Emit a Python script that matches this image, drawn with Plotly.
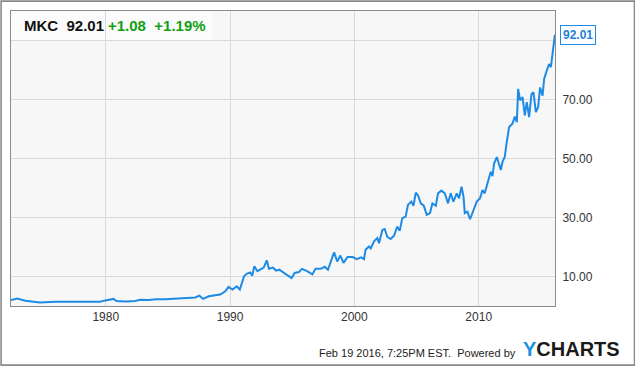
import plotly.graph_objects as go

# ---- data ----
dates = [
    "1972-05-18", "1972-11-15", "1973-07-15", "1974-09-15", "1975-12-15", "1977-03-15",
    "1978-05-15", "1979-07-15", "1979-12-20", "1980-08-15", "1980-11-15", "1981-08-15",
    "1982-05-15", "1982-10-15", "1983-06-15", "1984-01-15", "1984-10-15", "1985-08-15",
    "1986-06-15", "1987-03-15", "1987-07-15", "1987-11-01", "1988-04-15", "1988-10-15",
    "1989-03-15", "1989-08-15", "1989-11-15", "1990-03-15", "1990-07-15", "1990-10-15",
    "1991-02-15", "1991-05-15", "1991-08-15", "1991-10-15", "1991-12-15", "1992-03-15",
    "1992-06-15", "1992-09-15", "1992-12-15", "1993-02-15", "1993-06-15", "1993-09-15",
    "1993-12-15", "1994-05-15", "1994-09-15", "1994-12-15", "1995-03-15", "1995-07-15",
    "1995-10-15", "1996-03-15", "1996-08-15", "1996-11-15", "1997-04-15", "1997-08-15",
    "1997-11-15", "1998-02-15", "1998-05-15", "1998-08-15", "1998-11-15", "1999-02-15",
    "1999-06-15", "1999-11-15", "2000-03-15", "2000-07-15", "2000-10-10", "2000-11-25",
    "2001-03-05", "2001-04-25", "2001-08-01", "2001-11-05", "2001-12-25", "2002-04-01",
    "2002-06-10", "2002-08-28", "2002-12-01", "2003-03-10", "2003-06-15", "2003-08-25",
    "2003-11-10", "2004-02-15", "2004-04-25", "2004-08-01", "2004-10-01", "2004-12-10",
    "2005-02-15", "2005-05-05", "2005-08-01", "2005-10-28", "2006-02-01", "2006-04-12",
    "2006-07-20", "2006-09-25", "2007-01-01", "2007-04-10", "2007-07-15", "2007-10-01",
    "2007-12-20", "2008-03-28", "2008-06-03", "2008-08-15", "2008-10-12", "2008-11-18",
    "2009-02-05", "2009-04-22", "2009-07-30", "2009-11-05", "2010-02-10", "2010-04-22",
    "2010-06-28", "2010-09-16", "2010-11-03", "2010-12-20", "2011-02-10", "2011-03-28",
    "2011-06-18", "2011-08-22", "2011-10-12", "2011-12-02", "2012-02-05", "2012-04-05",
    "2012-06-14", "2012-09-20", "2012-11-28", "2013-01-26", "2013-03-05", "2013-05-01",
    "2013-07-13", "2013-09-17", "2013-11-14", "2014-01-22", "2014-04-01", "2014-05-29",
    "2014-08-07", "2014-10-12", "2014-12-10", "2015-02-20", "2015-04-08", "2015-06-24",
    "2015-09-01", "2015-10-23", "2015-12-10", "2016-01-26", "2016-02-19",
]
prices = [
    2.0, 2.5, 1.8, 1.2, 1.4, 1.5,
    1.4, 1.45, 1.9, 2.4, 1.7, 1.55,
    1.7, 2.1, 2.0, 2.3, 2.3, 2.5,
    2.8, 2.9, 3.5, 2.4, 3.3, 3.7,
    3.9, 5.0, 6.5, 5.6, 6.7, 5.6,
    10.1, 11.0, 11.4, 10.3, 13.5, 11.8,
    12.5, 13.0, 15.5, 12.6, 13.0, 12.0,
    12.3, 11.2, 10.3, 9.5, 11.2, 11.5,
    12.6, 11.8, 10.7, 12.6, 12.6, 13.3,
    12.3, 15.7, 18.2, 15.1, 17.1, 14.6,
    16.6, 16.6, 15.9, 16.5, 15.9, 19.1,
    20.2, 19.5, 21.9, 23.0, 21.3, 25.8,
    26.1, 23.4, 22.7, 23.8, 26.9, 25.5,
    29.8, 30.3, 34.3, 35.4, 34.0, 38.4,
    37.5, 34.8, 34.0, 30.9, 31.5, 34.8,
    34.0, 38.2, 39.1, 38.2, 34.8, 38.2,
    35.4, 38.2, 36.5, 40.4, 37.1, 31.5,
    32.0, 29.4, 32.6, 35.4, 36.5, 39.3,
    38.2, 41.6, 43.8, 45.5, 44.0, 48.3,
    50.5, 47.7, 46.1, 48.9, 50.5, 55.6,
    60.7, 61.8, 64.2, 62.3, 73.6, 69.7,
    70.8, 64.6, 69.1, 64.0, 71.9, 72.5,
    65.7, 67.4, 74.1, 71.3, 77.0, 79.8,
    82.0, 81.0, 85.4, 88.8, 92.01,
]
ticker = "MKC"
last_price = 92.01
change_abs = "+1.08"
change_pct = "+1.19%"
y_ticks = [10, 30, 50, 70, 90]
x_ticks = ["1980-01-01", "1990-01-01", "2000-01-01", "2010-01-01"]
x_tick_labels = ["1980", "1990", "2000", "2010"]
footer = "Feb 19 2016, 7:25PM EST.  Powered by"

LINE = "#1d8be6"
FONT = "Liberation Sans, Arial, sans-serif"

fig = go.Figure()
fig.add_trace(go.Scatter(
    x=dates, y=prices, mode="lines",
    line=dict(color=LINE, width=2), hoverinfo="skip", showlegend=False,
))

W, H = 635, 366
L, R, T, B = 10.7, 80.3, 10.7, 60
pw, ph = W - L - R, H - T - B

def px_x(p):
    return (p - L) / pw

def px_y(p):
    return (H - B - p) / ph

fig.update_layout(
    width=W, height=H,
    margin=dict(l=L, r=R, t=T, b=B, pad=0),
    paper_bgcolor="white", plot_bgcolor="#f7f7f7",
    font=dict(family=FONT, size=12, color="#333333"),
    xaxis=dict(
        type="date", range=["1972-05-18", "2016-02-21"],
        tickvals=x_ticks, ticktext=x_tick_labels,
        showgrid=True, gridcolor="#d9d9d9", gridwidth=1,
        showline=True, linecolor="#8c8c8c", linewidth=1, mirror=True,
        ticks="", zeroline=False, tickfont=dict(size=12, color="#333333"),
    ),
    yaxis=dict(
        range=[0, 100], side="right",
        tickvals=y_ticks, tickformat=".2f",
        showgrid=True, gridcolor="#d9d9d9", gridwidth=1,
        showline=True, linecolor="#8c8c8c", linewidth=1, mirror=True,
        ticks="", zeroline=False, ticklabelstandoff=4,
        tickfont=dict(size=12, color="#333333"),
    ),
    shapes=[
        # header box
        dict(type="rect", xref="paper", yref="paper",
             x0=0, x1=px_x(212), y0=px_y(40), y1=1,
             fillcolor="rgba(255,255,255,0.55)", line=dict(width=0), layer="below"),
        # outer frame
        dict(type="rect", xref="paper", yref="paper",
             x0=px_x(0.8), x1=px_x(634.2), y0=px_y(365.2), y1=px_y(0.8),
             fillcolor="rgba(0,0,0,0)", line=dict(color="#8a8a8a", width=1.6)),
    ],
)

fig.add_annotation(
    xref="paper", yref="paper", x=px_x(22), y=px_y(25),
    xanchor="left", yanchor="middle", showarrow=False,
    text=f"<b>{ticker}&nbsp;&nbsp;{last_price:.2f}</b>",
    font=dict(family=FONT, size=15, color="#111111"),
)
fig.add_annotation(
    xref="paper", yref="paper", x=px_x(106), y=px_y(25),
    xanchor="left", yanchor="middle", showarrow=False,
    text=f"<b>{change_abs}&nbsp;&nbsp;{change_pct}</b>",
    font=dict(family=FONT, size=15, color="#12a012"),
)
fig.add_annotation(
    x=dates[-1], y=prices[-1], xref="x", yref="y",
    xanchor="left", yanchor="middle", xshift=5, showarrow=False,
    text=f"<b>{prices[-1]:.2f}</b>",
    font=dict(family=FONT, size=12, color="#1f7fd8"),
    bgcolor="white", bordercolor=LINE, borderwidth=1, borderpad=2,
)
fig.add_annotation(
    xref="paper", yref="paper", x=px_x(518), y=px_y(353),
    xanchor="right", yanchor="middle", showarrow=False,
    text=footer, font=dict(family=FONT, size=11, color="#222222"),
)
fig.add_annotation(
    xref="paper", yref="paper", x=px_x(521), y=px_y(349.5),
    xanchor="left", yanchor="middle", showarrow=False,
    text="<b><span style='color:#1a8fe3'>Y</span>CHARTS</b>",
    font=dict(family=FONT, size=20, color="#1a1a1a"),
)

fig.write_html(
    "out.html",
    config={"displayModeBar": False},
    post_script="document.body.style.margin='0';document.body.style.overflow='hidden';",
)
